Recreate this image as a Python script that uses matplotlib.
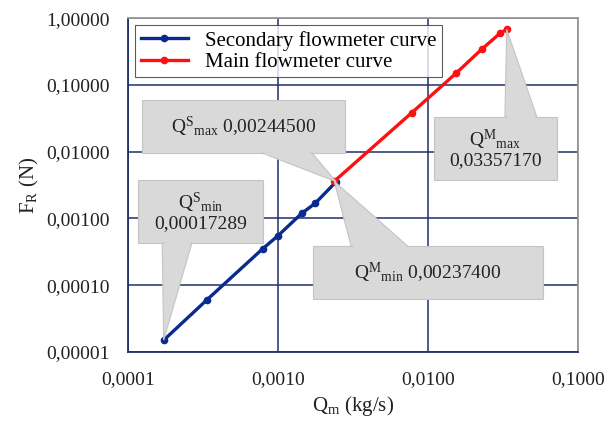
import matplotlib
matplotlib.use("Agg")
import matplotlib.pyplot as plt
from matplotlib.patches import Rectangle, Polygon
from matplotlib.ticker import FixedLocator, FuncFormatter

# Données
q_sec = [0.00017289, 0.000335, 0.00079, 0.0010, 0.00144, 0.00177, 0.002445]
f_sec = [1.5e-5, 6.0e-5, 3.5e-4, 5.5e-4, 1.19e-3, 1.68e-3, 3.55e-3]
q_main = [0.002374, 0.00778, 0.0154, 0.0228, 0.0302, 0.0335717]
f_main = [3.6e-3, 0.038, 0.149, 0.34, 0.59, 0.68]

x_ticks = [0.0001, 0.001, 0.01, 0.1]
y_ticks = [1e-5, 1e-4, 1e-3, 1e-2, 1e-1, 1.0]

plt.rcParams["font.family"] = ["Liberation Serif", "DejaVu Serif"]
plt.rcParams["mathtext.fontset"] = "custom"
plt.rcParams["mathtext.rm"] = "Liberation Serif"
plt.rcParams["mathtext.it"] = "Liberation Serif:italic"

navy = "#1f2f6b"
blue = "#0a2a8e"
red = "#ff1010"
grey = "#d9d9d9"
texte = "#222222"

fig = plt.figure(figsize=(6.14, 4.22), dpi=100)
ax = fig.add_axes([0.2085, 0.166, 0.7325, 0.791])

ax.plot(q_sec, f_sec, color=blue, lw=2.4, marker="o", ms=4.5,
        label="Secondary flowmeter curve", zorder=3)
ax.plot(q_main, f_main, color=red, lw=2.4, marker="o", ms=4.5,
        label="Main flowmeter curve", zorder=3)

ax.set_xscale("log")
ax.set_yscale("log")
ax.set_xlim(0.0001, 0.1)
ax.set_ylim(1e-5, 1.0)
ax.xaxis.set_major_locator(FixedLocator(x_ticks))
ax.yaxis.set_major_locator(FixedLocator(y_ticks))
ax.xaxis.set_minor_locator(FixedLocator([]))
ax.yaxis.set_minor_locator(FixedLocator([]))
ax.xaxis.set_major_formatter(FuncFormatter(lambda v, p: f"{v:.4f}".replace(".", ",")))
ax.yaxis.set_major_formatter(FuncFormatter(lambda v, p: f"{v:.5f}".replace(".", ",")))
ax.tick_params(length=0, labelsize=14, colors=texte)
ax.tick_params(axis="y", pad=13)
ax.tick_params(axis="x", pad=14)
ax.grid(True, color=navy, lw=1.1)

for side in ["left", "bottom"]:
    ax.spines[side].set_color(navy)
    ax.spines[side].set_linewidth(1.3)
for side in ["top", "right"]:
    ax.spines[side].set_color("#999999")
    ax.spines[side].set_linewidth(1.3)

ax.set_xlabel(r"Q$_{\mathrm{m}}$ (kg/s)", fontsize=15, labelpad=4, color=texte)
ax.set_ylabel(r"F$_{\mathrm{R}}$ (N)", fontsize=15, labelpad=4, color=texte)

leg = ax.legend(loc="upper left", fontsize=15, frameon=True, fancybox=False,
                borderaxespad=0.35, handlelength=2.3, labelspacing=0.1,
                borderpad=0.25, handletextpad=0.8)
leg.get_frame().set_edgecolor("#333333")
leg.get_frame().set_linewidth(0.8)

# Bulles : (texte, point, boîte [x0, y0, x1, y1] en fraction d'axes, base de la pointe)
callouts = [
    (r"Q$^{\mathrm{S}}{}_{\mathrm{max}}$ 0,00244500", (q_sec[-1], f_sec[-1]),
     (0.031, 0.596, 0.482, 0.754), ((0.298, 0.596), (0.409, 0.596))),
    ("Q$^{\\mathrm{S}}{}_{\\mathrm{min}}$\n0,00017289", (q_sec[0], f_sec[0]),
     (0.022, 0.326, 0.300, 0.515), ((0.076, 0.326), (0.142, 0.326))),
    (r"Q$^{\mathrm{M}}{}_{\mathrm{min}}$ 0,00237400", (q_main[0], f_main[0]),
     (0.411, 0.159, 0.922, 0.317), ((0.496, 0.317), (0.622, 0.317))),
    ("Q$^{\\mathrm{M}}{}_{\\mathrm{max}}$\n0,03357170", (q_main[-1], f_main[-1]),
     (0.680, 0.515, 0.953, 0.704), ((0.838, 0.704), (0.909, 0.704))),
]
to_axes = ax.transAxes.inverted()
for txt, pt, box, base in callouts:
    tip = to_axes.transform(ax.transData.transform(pt))
    x0, y0, x1, y1 = box
    ax.add_patch(Rectangle((x0, y0), x1 - x0, y1 - y0, transform=ax.transAxes,
                           fc=grey, ec="#c4c4c4", lw=0.8, zorder=4))
    ax.add_patch(Polygon([base[0], tip, base[1]], closed=True, transform=ax.transAxes,
                         fc=grey, ec="#c4c4c4", lw=0.8, zorder=4))
    ax.add_patch(Polygon([(base[0][0] + 0.004, base[0][1]), (base[1][0] - 0.004, base[1][1])],
                         closed=False, transform=ax.transAxes, fill=False,
                         ec=grey, lw=2.0, zorder=4.1))
    ax.text((x0 + x1) / 2, (y0 + y1) / 2, txt, transform=ax.transAxes, ha="center",
            va="center", fontsize=14, color=texte, multialignment="center",
            linespacing=1.05, zorder=5)

fig.savefig("out.png", dpi=100)
